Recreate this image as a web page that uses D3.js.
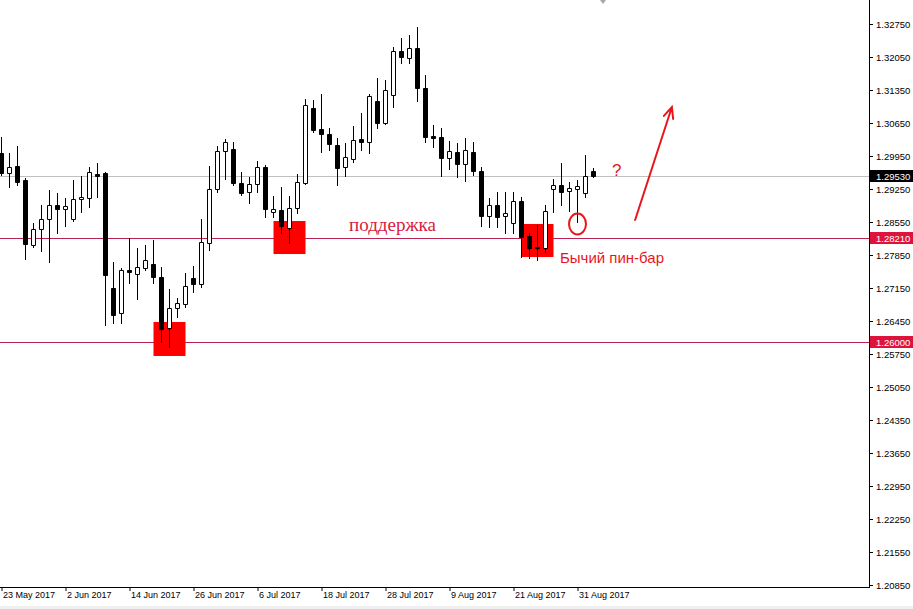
<!DOCTYPE html>
<html><head><meta charset="utf-8">
<script src="https://cdn.jsdelivr.net/npm/d3@7"></script>
<style>body{margin:0;background:#fff;overflow:hidden}svg{display:block}</style>
</head><body>
<svg id="chart" width="913" height="609"></svg>
<script>
// ---- data (GBPUSD daily) ----
const dates = ["2017-05-23","2017-05-24","2017-05-25","2017-05-26","2017-05-29","2017-05-30","2017-05-31","2017-06-01","2017-06-02","2017-06-05","2017-06-06","2017-06-07","2017-06-08","2017-06-09","2017-06-12","2017-06-13","2017-06-14","2017-06-15","2017-06-16","2017-06-19","2017-06-20","2017-06-21","2017-06-22","2017-06-23","2017-06-26","2017-06-27","2017-06-28","2017-06-29","2017-06-30","2017-07-03","2017-07-04","2017-07-05","2017-07-06","2017-07-07","2017-07-10","2017-07-11","2017-07-12","2017-07-13","2017-07-14","2017-07-17","2017-07-18","2017-07-19","2017-07-20","2017-07-21","2017-07-24","2017-07-25","2017-07-26","2017-07-27","2017-07-28","2017-07-31","2017-08-01","2017-08-02","2017-08-03","2017-08-04","2017-08-07","2017-08-08","2017-08-09","2017-08-10","2017-08-11","2017-08-14","2017-08-15","2017-08-16","2017-08-17","2017-08-18","2017-08-21","2017-08-22","2017-08-23","2017-08-24","2017-08-25","2017-08-28","2017-08-29","2017-08-30","2017-08-31","2017-09-01","2017-09-04"];
const opens = [1.30014,1.29589,1.29738,1.29441,1.28062,1.28402,1.28614,1.28911,1.28826,1.28614,
1.29038,1.29059,1.29568,1.29589,1.27150,1.26620,1.27532,1.27447,1.27574,1.27659,
1.27383,1.26302,1.26726,1.26811,1.27362,1.27235,1.28105,1.29250,1.30056,1.30098,
1.29377,1.29186,1.29356,1.29717,1.28762,1.28805,1.28423,1.28847,1.29377,1.30968,
1.30523,1.30417,1.30183,1.29717,1.29886,1.30311,1.30247,1.31117,1.30650,1.31244,
1.32177,1.32029,1.32241,1.31392,1.30374,1.30353,1.29908,1.30035,1.29780,1.30035,
1.29632,1.28677,1.28911,1.28677,1.28529,1.28995,1.28253,1.28020,1.27998,1.29250,
1.29335,1.29208,1.29250,1.29165,1.29632];
const highs = [1.30353,1.30014,1.30162,1.29483,1.28529,1.28911,1.29229,1.29165,1.29059,1.29441,
1.29526,1.29717,1.29801,1.29611,1.27702,1.27574,1.28211,1.27998,1.28062,1.28168,
1.27595,1.27129,1.26938,1.27468,1.27617,1.28614,1.29738,1.30162,1.30311,1.30247,
1.29611,1.29505,1.29844,1.29759,1.29101,1.29292,1.29101,1.29568,1.31159,1.31138,
1.31265,1.30544,1.30332,1.30226,1.30586,1.30862,1.31265,1.31605,1.31562,1.32262,
1.32453,1.32517,1.32686,1.31668,1.30608,1.30544,1.30268,1.30226,1.30332,1.30247,
1.29717,1.29059,1.29186,1.29186,1.29186,1.29080,1.28317,1.28486,1.28911,1.29462,
1.29801,1.29398,1.29441,1.29971,1.29695];
const lows = [1.29547,1.29292,1.29335,1.27765,1.28020,1.27935,1.27702,1.28317,1.28465,1.28571,
1.28762,1.28868,1.29080,1.26365,1.26408,1.26408,1.27256,1.26917,1.27532,1.27256,
1.26005,1.25898,1.26535,1.26747,1.27065,1.27171,1.27956,1.29186,1.29462,1.29335,
1.29123,1.28953,1.29186,1.28656,1.28656,1.28317,1.28105,1.28741,1.29356,1.30459,
1.30035,1.30077,1.29335,1.29526,1.29823,1.30077,1.30014,1.30544,1.30629,1.30989,
1.31923,1.31923,1.31117,1.30247,1.30141,1.29526,1.29674,1.29505,1.29420,1.29547,
1.28465,1.28444,1.28444,1.28317,1.28317,1.27808,1.27786,1.27744,1.27914,1.28762,
1.28911,1.28783,1.28550,1.29080,1.29505];
const closes = [1.29589,1.29717,1.29398,1.28083,1.28402,1.28614,1.28911,1.28826,1.28889,1.29038,
1.29080,1.29611,1.29526,1.27426,1.26577,1.27532,1.27489,1.27595,1.27744,1.27383,
1.26280,1.26726,1.26832,1.27192,1.27235,1.28126,1.29250,1.30056,1.30247,1.29377,
1.29165,1.29356,1.29717,1.28826,1.28826,1.28465,1.28847,1.29398,1.31032,1.30501,
1.30417,1.30205,1.29695,1.29929,1.30289,1.30247,1.31223,1.30650,1.31350,1.32177,
1.32050,1.32241,1.31392,1.30353,1.30332,1.29908,1.30056,1.29780,1.30077,1.29632,
1.28677,1.28911,1.28656,1.28741,1.28995,1.28232,1.27998,1.27998,1.28783,1.29335,
1.29186,1.29271,1.29314,1.29526,1.29530];
const priceTicks = [1.3275,1.3205,1.3135,1.3065,1.2995,1.2925,1.2855,1.2785,1.2715,1.2645,1.2575,1.2505,1.2435,1.2365,1.2295,1.2225,1.2155,1.2085];
const dateTickStep = 8;
const lastPrice = 1.2953;
const supportLevels = [1.2821, 1.2600];
// annotation zones: [fromIndex, toIndex, topPrice, bottomPrice]
const zones = [[19, 23, 1.26429, 1.25708], [34, 38, 1.28571, 1.27871], [65, 69, 1.28508, 1.27808]];
const supportText = "поддержка";
const pinBarText = "Бычий пин-бар";

// ---- scales ----
const parse = d3.timeParse("%Y-%m-%d");
const fmtDate = d3.timeFormat("%-d %b %Y");
const candles = dates.map((d, i) => ({i, date: parse(d), o: opens[i], h: highs[i], l: lows[i], c: closes[i]}));

const W = 913, H = 609, plotRight = 869, plotBottom = 587;
const x = d3.scaleLinear().domain([0, dates.length - 1]).range([1.5, 1.5 + 8 * (dates.length - 1)]);
const y = d3.scaleLinear().domain([1.2085, 1.3275]).range([585, 24]);
const ry = v => Math.round(y(v)) + 0.5;

const svg = d3.select("#chart");
svg.append("rect").attr("width", W).attr("height", H).attr("fill", "#fff");
svg.append("rect").attr("x", 0).attr("y", 606).attr("width", W).attr("height", 3).attr("fill", "#f0f0f0");

const plot = svg.append("g");
// current price line
plot.append("line").attr("x1", 0).attr("x2", plotRight).attr("y1", ry(lastPrice)).attr("y2", ry(lastPrice))
  .attr("stroke", "#c0c0c0").attr("stroke-width", 1);
// support lines
plot.selectAll("line.sup").data(supportLevels).join("line").attr("class", "sup")
  .attr("x1", 0).attr("x2", plotRight).attr("y1", d => ry(d)).attr("y2", d => ry(d))
  .attr("stroke", "#b8234f").attr("stroke-width", 1);
// red zones
plot.selectAll("rect.zone").data(zones).join("rect").attr("class", "zone")
  .attr("x", d => x(d[0])).attr("width", d => x(d[1]) - x(d[0]))
  .attr("y", d => y(d[2])).attr("height", d => y(d[3]) - y(d[2]))
  .attr("fill", "#ff0000");

// candles
const cg = plot.selectAll("g.candle").data(candles).join("g").attr("class", "candle");
cg.append("line")
  .attr("x1", d => x(d.i)).attr("x2", d => x(d.i))
  .attr("y1", d => Math.round(y(d.h))).attr("y2", d => Math.round(y(d.l)) + 1)
  .attr("stroke", "#000").attr("stroke-width", 1);
cg.append("path")
  .attr("d", d => {
    const t = ry(Math.max(d.o, d.c)), b = ry(Math.min(d.o, d.c));
    const x0 = x(d.i) - 2, x1 = x(d.i) + 2;
    return `M${x0},${t}H${x1}V${b}H${x0}Z`;
  })
  .attr("fill", d => d.c > d.o ? "#fff" : "#000")
  .attr("stroke", "#000").attr("stroke-width", 1);

// annotations
const red = "#e8161c";
plot.append("text").attr("x", x(43.44)).attr("y", y(1.28359))
  .attr("font-family", "'Liberation Serif','Times New Roman',serif").attr("font-size", 19)
  .attr("fill", "#d8203f").text(supportText);
plot.append("text").attr("x", x(69.81)).attr("y", y(1.27680))
  .attr("font-family", "'Liberation Sans',Arial,sans-serif").attr("font-size", 15)
  .attr("fill", red).text(pinBarText);
plot.append("text").attr("x", x(76.3)).attr("y", y(1.29526))
  .attr("font-family", "'Liberation Sans',Arial,sans-serif").attr("font-size", 17)
  .attr("fill", red).text("?");
plot.append("ellipse").attr("cx", x(72)).attr("cy", y(1.28508)).attr("rx", 8.5).attr("ry", 10.5)
  .attr("fill", "none").attr("stroke", red).attr("stroke-width", 2);
// arrow
const ax0 = x(79.2), ay0 = y(1.28592), ax1 = x(83.8), ay1 = y(1.30989);
const ang = Math.atan2(ay1 - ay0, ax1 - ax0), hl = 12, ha = 0.42;
plot.append("path")
  .attr("d", `M${ax0},${ay0}L${ax1},${ay1}M${ax1 - hl * Math.cos(ang - ha)},${ay1 - hl * Math.sin(ang - ha)}L${ax1},${ay1}L${ax1 - hl * Math.cos(ang + ha)},${ay1 - hl * Math.sin(ang + ha)}`)
  .attr("fill", "none").attr("stroke", red).attr("stroke-width", 2).attr("stroke-linecap", "round");

// shift marker at top
svg.append("path").attr("d", "M600,0L606,0L603,4Z").attr("fill", "#a8a8a8");

// ---- axes ----
svg.append("line").attr("x1", 0).attr("x2", plotRight + 1).attr("y1", plotBottom + 0.5).attr("y2", plotBottom + 0.5).attr("stroke", "#000");
svg.append("line").attr("x1", plotRight + 0.5).attr("x2", plotRight + 0.5).attr("y1", 0).attr("y2", plotBottom + 1).attr("stroke", "#000");

const yAxis = svg.append("g").attr("transform", `translate(${plotRight + 1},0)`)
  .call(d3.axisRight(y).tickValues(priceTicks).tickSize(3).tickPadding(3).tickFormat(d3.format(".5f")));
yAxis.select(".domain").remove();
yAxis.selectAll("text").attr("font-family", "'Liberation Sans',Tahoma,sans-serif").attr("font-size", 9.5).attr("fill", "#000");

const tickIdx = d3.range(0, dates.length, dateTickStep);
const xAxis = svg.append("g").attr("transform", `translate(0,${plotBottom})`)
  .call(d3.axisBottom(x).tickValues(tickIdx).tickSize(4).tickFormat(i => fmtDate(candles[i].date)));
xAxis.select(".domain").remove();
xAxis.selectAll("text").attr("text-anchor", "start").attr("x", 1).attr("y", 5).attr("dy", "0.71em")
  .attr("font-family", "'Liberation Sans',Tahoma,sans-serif").attr("font-size", 9).attr("fill", "#000");

// price labels on right axis
const tags = [{v: lastPrice, bg: "#000"}, {v: supportLevels[0], bg: "#dc143c"}, {v: supportLevels[1], bg: "#dc143c"}];
const tg = svg.selectAll("g.tag").data(tags).join("g").attr("class", "tag");
tg.append("rect").attr("x", plotRight + 1).attr("width", W - plotRight - 1)
  .attr("y", d => ry(d.v) - 6.5).attr("height", 12).attr("fill", d => d.bg);
tg.append("text").attr("x", plotRight + 7).attr("y", d => ry(d.v)).attr("dy", "0.34em")
  .attr("font-family", "'Liberation Sans',Tahoma,sans-serif").attr("font-size", 9.5).attr("fill", "#fff")
  .text(d => d3.format(".5f")(d.v));
</script>
</body></html>
